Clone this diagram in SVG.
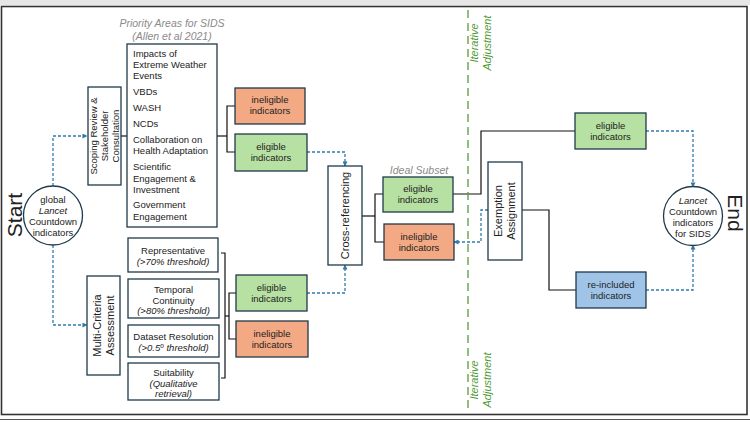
<svg xmlns="http://www.w3.org/2000/svg" width="750" height="422" viewBox="0 0 750 422">
<defs>
<style>
text{font-family:"Liberation Sans",Arial,sans-serif;fill:#222;font-size:9.5px}
.c{text-anchor:middle}
.it{font-style:italic}
.box{fill:#fff;stroke:#1f3a4a;stroke-width:1.3}
.inel{fill:#f3aa84;stroke:#1f3a4a;stroke-width:1.3}
.el{fill:#b6e1a2;stroke:#1f3a4a;stroke-width:1.3}
.re{fill:#9fc4e8;stroke:#1f3a4a;stroke-width:1.3}
.solid{fill:none;stroke:#111;stroke-width:1.2}
.dash{fill:none;stroke:#2e7bab;stroke-width:1.3;stroke-dasharray:3 2}
.grey{fill:#8a8a8a;font-size:10.5px;font-style:italic}
.green{fill:#4f9a35;font-size:11px;font-style:italic}
.big{font-size:21px}
.mid{font-size:11px}
</style>
<marker id="ah" viewBox="0 0 6 6" refX="5.5" refY="3" markerWidth="5" markerHeight="5" orient="auto" markerUnits="userSpaceOnUse">
<path d="M0,0 L6,3 L0,6 z" fill="#2e7bab"/>
</marker>
</defs>
<rect x="0" y="0" width="750" height="422" fill="#fff"/>
<rect x="0" y="0" width="750" height="5" fill="#e6e6e6"/>
<rect x="1.5" y="6.5" width="745.5" height="408" fill="none" stroke="#333" stroke-width="1.6"/>
<line x1="0" y1="419.5" x2="750" y2="419.5" stroke="#555" stroke-width="1"/>

<g id="connectors">
<path class="dash" d="M53,186 V136 H87" marker-end="url(#ah)"/>
<path class="dash" d="M53,245 V325 H87" marker-end="url(#ah)"/>
<path class="dash" d="M307,152 H345 V166" marker-end="url(#ah)"/>
<path class="dash" d="M307,293 H345 V265" marker-end="url(#ah)"/>
<path class="dash" d="M488,210 H481 V242 H454" marker-end="url(#ah)"/>
<path class="dash" d="M646,131 H693 V187" marker-end="url(#ah)"/>
<path class="dash" d="M646,290 H693 V245" marker-end="url(#ah)"/>
<path class="solid" d="M121,136 H127"/>
<path class="solid" d="M217,136 H227"/>
<path class="solid" d="M235,106 H227 V152 H235"/>
<path class="solid" d="M221,253 H225 V378 H221"/>
<path class="solid" d="M225,316 H229"/>
<path class="solid" d="M236,293 H229 V339 H236"/>
<path class="solid" d="M362,216 H375"/>
<path class="solid" d="M383,194 H375 V242 H384"/>
<path class="solid" d="M453,194 H481 V131 H575"/>
<path class="solid" d="M522,210 H549 V290 H576"/>
<path d="M468,10 V412" fill="none" stroke="#5b9b3b" stroke-width="1.3" stroke-dasharray="8 5"/>
</g>

<g id="iter-top">
<text class="green c" transform="translate(478,43) rotate(-90)">Iterative</text>
<text class="green c" transform="translate(491,43) rotate(-90)">Adjustment</text>
</g>
<g id="iter-bottom">
<text class="green c" transform="translate(478,380) rotate(-90)">Iterative</text>
<text class="green c" transform="translate(491,380) rotate(-90)">Adjustment</text>
</g>

<g id="start-label"><text class="big c" transform="translate(22,215) rotate(-90)">Start</text></g>
<g id="end-label"><text class="big c" transform="translate(728,213) rotate(90)">End</text></g>

<g id="start">
<circle cx="53" cy="215.5" r="29.5" fill="#fff" stroke="#1f3a4a" stroke-width="1.3"/>
<text class="c" x="53" y="202.5">global</text>
<text class="c it" x="53" y="213.5">Lancet</text>
<text class="c" x="53" y="224.5">Countdown</text>
<text class="c" x="53" y="235.5">indicators</text>
</g>

<g id="scoping">
<rect class="box" x="88" y="87" width="33" height="98"/>
<text class="c" transform="translate(104.5,136) rotate(-90)"><tspan x="0" y="-7.5">Scoping Review &amp;</tspan><tspan x="0" y="3.5">Stakeholder</tspan><tspan x="0" y="14.5">Consultation</tspan></text>
</g>

<g id="mca">
<rect class="box" x="87" y="276" width="33" height="99"/>
<text class="c mid" transform="translate(103.5,325.5) rotate(-90)"><tspan x="0" y="-3">Multi-Criteria</tspan><tspan x="0" y="10">Assessment</tspan></text>
</g>

<g id="priority">
<text class="grey c" x="172" y="27">Priority Areas for SIDS</text>
<text class="grey c" x="172" y="39.5">(Allen et al 2021)</text>
<rect class="box" x="127" y="44" width="90" height="183"/>
<text x="133" y="56.5">Impacts of</text>
<text x="133" y="68">Extreme Weather</text>
<text x="133" y="79">Events</text>
<text x="133" y="95">VBDs</text>
<text x="133" y="111">WASH</text>
<text x="133" y="127">NCDs</text>
<text x="133" y="143">Collaboration on</text>
<text x="133" y="154">Health Adaptation</text>
<text x="133" y="170">Scientific</text>
<text x="133" y="181.5">Engagement &amp;</text>
<text x="133" y="192.5">Investment</text>
<text x="133" y="208">Government</text>
<text x="133" y="219.5">Engagement</text>
</g>

<g id="representative">
<rect class="box" x="128" y="238" width="90" height="34"/>
<text class="c" x="173" y="253.5">Representative</text>
<text class="c it" x="173" y="264.5">(&gt;70% threshold)</text>
</g>
<g id="temporal">
<rect class="box" x="128" y="279" width="91" height="39"/>
<text class="c" x="173.5" y="292.5">Temporal</text>
<text class="c" x="173.5" y="303.5">Continuity</text>
<text class="c it" x="173.5" y="314">(&gt;80% threshold)</text>
</g>
<g id="resolution">
<rect class="box" x="128" y="325" width="91" height="32"/>
<text class="c" x="173.5" y="339.5">Dataset Resolution</text>
<text class="c it" x="173.5" y="350.5">(&gt;0.5<tspan baseline-shift="super" font-size="6.5">o</tspan> threshold)</text>
</g>
<g id="suitability">
<rect class="box" x="128" y="363" width="91" height="37"/>
<text class="c" x="173.5" y="375.5">Suitability</text>
<text class="c it" x="173.5" y="386.5">(Qualitative</text>
<text class="c it" x="173.5" y="397">retrieval)</text>
</g>

<g id="inel-1">
<rect class="inel" x="235" y="88" width="70" height="36"/>
<text class="c" x="270" y="103">ineligible</text>
<text class="c" x="270" y="114">indicators</text>
</g>
<g id="el-1">
<rect class="el" x="235" y="134" width="72" height="37"/>
<text class="c" x="271" y="150">eligible</text>
<text class="c" x="271" y="161">indicators</text>
</g>
<g id="el-2">
<rect class="el" x="236" y="275" width="71" height="36"/>
<text class="c" x="271.5" y="291">eligible</text>
<text class="c" x="271.5" y="302">indicators</text>
</g>
<g id="inel-2">
<rect class="inel" x="236" y="321" width="72" height="36"/>
<text class="c" x="272" y="337">ineligible</text>
<text class="c" x="272" y="348">indicators</text>
</g>

<g id="crossref">
<rect class="box" x="328" y="166" width="34" height="99"/>
<text class="c mid" transform="translate(345,215.5) rotate(-90)" y="4">Cross-referencing</text>
</g>

<g id="ideal-el">
<text class="grey c" x="419" y="173.5">Ideal Subset</text>
<rect class="el" x="383" y="177" width="70" height="35"/>
<text class="c" x="418" y="192">eligible</text>
<text class="c" x="418" y="203">indicators</text>
</g>
<g id="ideal-inel">
<rect class="inel" x="384" y="224" width="70" height="36"/>
<text class="c" x="419" y="240">ineligible</text>
<text class="c" x="419" y="251">indicators</text>
</g>

<g id="exemption">
<rect class="box" x="488" y="162" width="34" height="98"/>
<text class="c mid" transform="translate(505,211) rotate(-90)"><tspan x="0" y="-3">Exemption</tspan><tspan x="0" y="10">Assignment</tspan></text>
</g>

<g id="el-final">
<rect class="el" x="575" y="113" width="71" height="36"/>
<text class="c" x="610.5" y="129">eligible</text>
<text class="c" x="610.5" y="140">indicators</text>
</g>
<g id="reincluded">
<rect class="re" x="576" y="272" width="70" height="36"/>
<text class="c" x="611" y="288">re-included</text>
<text class="c" x="611" y="299">indicators</text>
</g>

<g id="end">
<circle cx="693" cy="216" r="29.5" fill="#fff" stroke="#1f3a4a" stroke-width="1.3"/>
<text class="c it" x="693" y="204">Lancet</text>
<text class="c" x="693" y="215">Countdown</text>
<text class="c" x="693" y="226">indicators</text>
<text class="c" x="693" y="237">for SIDS</text>
</g>
</svg>
